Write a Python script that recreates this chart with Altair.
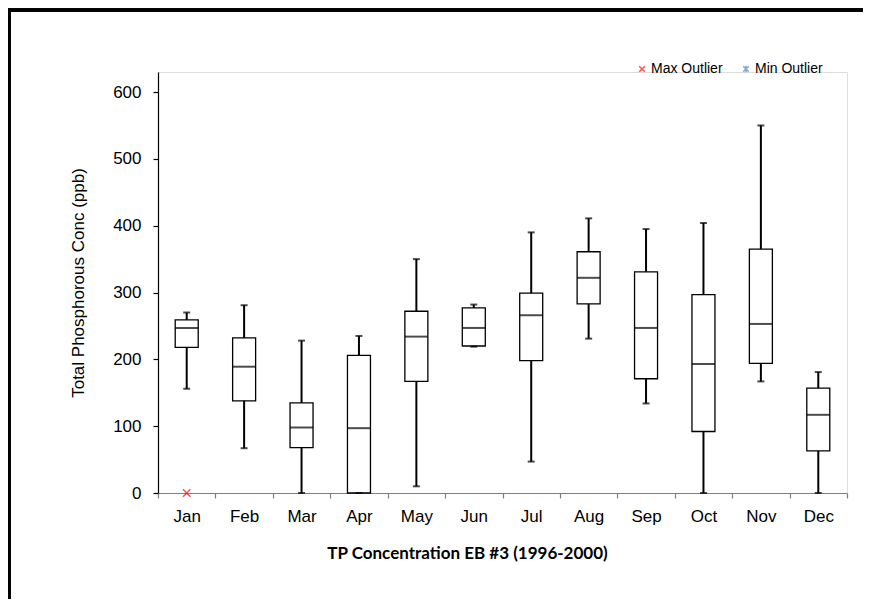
import altair as alt
import pandas as pd

months = ["Jan", "Feb", "Mar", "Apr", "May", "Jun", "Jul", "Aug", "Sep", "Oct", "Nov", "Dec"]
mins = [156, 67, 0, 0, 10, 219, 47, 231, 134, 0, 167, 0]
q1s = [218, 138, 68, 0, 167, 220, 198, 283, 171, 92, 194, 63]
meds = [247, 189, 98, 97, 234, 247, 266, 322, 247, 193, 253, 117]
q3s = [259, 232, 135, 206, 272, 277, 299, 361, 331, 297, 365, 157]
maxs = [270, 281, 228, 235, 350, 282, 390, 411, 395, 404, 550, 181]

outlier_month = ["Jan"]
outlier_value = [0]
outlier_series = ["Max Outlier"]
series_names = ["Max Outlier", "Min Outlier"]
series_colors = ["#FF0000", "#4F7FD0"]
series_shapes = ["M-1,-1L1,1M-1,1L1,-1", "M-1,-1L1,1M-1,1L1,-1M0,-1.2L0,1.2"]

df = pd.DataFrame({"month": months, "min": mins, "q1": q1s, "med": meds, "q3": q3s, "max": maxs})
odf = pd.DataFrame({"month": outlier_month, "value": outlier_value, "series": outlier_series})

W, H = 689, 421
FONT = "Liberation Sans"

xenc = alt.X(
    "month:N", sort=months,
    scale=alt.Scale(domain=months, paddingInner=0, paddingOuter=0),
    axis=alt.Axis(
        title="TP Concentration EB #3 (1996-2000)",
        titleFont="Lato", titleFontWeight="bold", titleFontSize=17, titleColor="#000000",
        titleX=309, titleY=60, titleAlign="center", titleBaseline="middle",
        tickBand="extent", labelAngle=0, labelFont=FONT, labelFontSize=17,
        labelColor="#000000", labelPadding=10, tickSize=5, tickColor="#808080",
        domainColor="#808080", domainWidth=1.2, tickWidth=1.2,
    ),
)
yscale = alt.Scale(domain=[0, 630], nice=False, zero=True)
yaxis = alt.Axis(
    title="Total Phosphorous Conc (ppb)", titleFont=FONT, titleFontSize=17,
    titleFontWeight="normal", titleColor="#000000",
    titleX=-80, titleY=210.5, titleAlign="center", titleBaseline="middle", titleAngle=-90,
    values=[0, 100, 200, 300, 400, 500, 600], grid=False,
    labelFont=FONT, labelFontSize=17, labelColor="#000000", labelPadding=12,
    tickSize=5, tickColor="#000000", domainColor="#000000", domainWidth=1.2, tickWidth=1.2,
)

base = alt.Chart(df)

whisker = base.mark_rule(color="#000000", strokeWidth=2).encode(
    x=xenc, y=alt.Y("min:Q", scale=yscale, axis=yaxis), y2="max:Q"
)
box = base.mark_bar(size=23, fill="#FFFFFF", stroke="#000000", strokeWidth=1.3).encode(
    x=xenc, y=alt.Y("q1:Q", scale=yscale, axis=yaxis), y2="q3:Q"
)
median = base.mark_tick(size=23, thickness=2, color="#000000").encode(
    x=xenc, y=alt.Y("med:Q", scale=yscale, axis=yaxis)
)
cap_top = base.mark_tick(size=7, thickness=2, color="#000000").encode(
    x=xenc, y=alt.Y("max:Q", scale=yscale, axis=yaxis)
)
cap_bot = base.mark_tick(size=7, thickness=2, color="#000000").encode(
    x=xenc, y=alt.Y("min:Q", scale=yscale, axis=yaxis)
)

outliers = alt.Chart(odf).mark_point(filled=False, size=55, strokeWidth=1.5).encode(
    x=xenc,
    y=alt.Y("value:Q", scale=yscale, axis=yaxis),
    color=alt.Color("series:N", scale=alt.Scale(domain=series_names, range=series_colors),
                    legend=alt.Legend(title=None, orient="none", legendX=477, legendY=-10,
                                      direction="horizontal", columns=2, padding=0,
                                      columnPadding=16, symbolSize=30, symbolStrokeWidth=1.5,
                                      labelFont=FONT, labelFontSize=14, labelColor="#000000",
                                      labelOffset=2)),
    shape=alt.Shape("series:N", scale=alt.Scale(domain=series_names, range=series_shapes),
                    legend=None),
)

# outer frame (top and left edges of the original chart border)
frame_top = alt.Chart(df).mark_rule(color="#000000", strokeWidth=2.5).encode(
    x=alt.value(-151), x2=alt.value(W + 60), y=alt.value(-62)
)
frame_left = alt.Chart(df).mark_rule(color="#000000", strokeWidth=2.5).encode(
    x=alt.value(-149), y=alt.value(-63), y2=alt.value(H + 140)
)

chart = alt.layer(
    frame_top, frame_left, whisker, box, median, cap_top, cap_bot, outliers
).properties(
    width=W, height=H,
    padding={"left": 150, "top": 64, "right": 16, "bottom": 106},
    autosize=alt.AutoSizeParams(type="none"),
).configure_view(strokeWidth=0).configure(background="#FFFFFF")

chart.save("out.html", embed_options={"renderer": "svg", "actions": False})
